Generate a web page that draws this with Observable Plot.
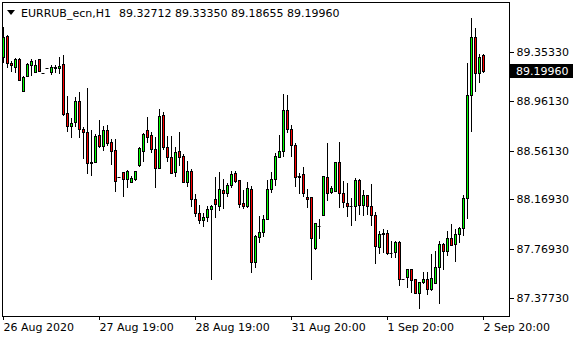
<!DOCTYPE html>
<html><head><meta charset="utf-8">
<script src="https://cdn.jsdelivr.net/npm/d3@7"></script>
<script src="https://cdn.jsdelivr.net/npm/@observablehq/plot@0.6"></script>
<style>
html,body{margin:0;padding:0;background:#fff;}
#chart{position:relative;width:580px;height:340px;}
</style></head><body><div id="chart"></div>
<script>
const symbolName = "EURRUB_ecn,H1";
const headerValues = "89.32712 89.33350 89.18655 89.19960";
const lastPrice = 89.1996;
const tickIndex = [0, 24, 48, 72, 96, 120];
const tickLabels = ["26 Aug 2020", "27 Aug 19:00", "28 Aug 19:00", "31 Aug 20:00", "1 Sep 20:00", "2 Sep 20:00"];
const priceTicks = [89.3533, 88.9613, 88.5613, 88.1693, 87.7693, 87.3773];

const opens = [89.313,89.482,89.265,89.233,89.297,89.040,89.160,89.249,89.193,89.297,
89.185,89.225,89.193,89.229,89.225,89.257,88.863,88.759,88.791,88.960,
88.735,88.711,88.470,88.470,88.687,88.598,88.727,88.630,88.566,88.349,
88.389,88.333,88.309,88.333,88.446,88.558,88.727,88.687,88.574,88.422,
88.847,88.590,88.510,88.389,88.558,88.518,88.309,88.397,88.172,88.060,
88.004,88.028,88.092,88.172,88.116,88.245,88.221,88.285,88.381,88.325,
88.140,88.116,88.253,87.666,87.867,87.907,88.012,88.253,88.333,88.510,
88.558,88.887,88.735,88.606,88.357,88.373,88.189,88.189,87.779,87.954,
88.044,88.349,88.229,88.237,88.470,88.221,88.140,88.116,88.116,88.325,
88.124,88.205,88.116,88.044,87.787,87.895,87.899,87.739,87.747,87.827,
87.530,87.546,87.610,87.530,87.417,87.506,87.530,87.449,87.498,87.626,
87.811,87.755,87.859,87.811,87.891,87.940,88.180,89.008,89.474,89.185,
89.32712];
const highs = [89.554,89.490,89.281,89.305,89.305,89.160,89.265,89.297,89.289,89.300,
89.186,89.227,89.249,89.249,89.313,89.329,89.000,88.823,88.992,89.032,
88.751,89.064,88.727,88.695,88.807,88.759,88.767,88.654,88.654,88.350,
88.392,88.405,88.357,88.400,88.590,88.703,88.831,88.711,88.671,88.895,
88.871,88.679,88.679,88.590,88.711,88.534,88.478,88.413,88.213,88.124,
88.060,88.116,88.124,88.349,88.389,88.333,88.301,88.397,88.397,88.328,
88.245,88.309,88.277,87.883,88.036,88.044,88.325,88.389,88.542,88.687,
89.016,89.008,88.767,88.622,88.381,88.430,88.253,88.192,87.983,88.012,
88.360,88.622,88.277,88.473,88.630,88.317,88.301,88.180,88.341,88.333,
88.245,88.208,88.293,88.068,87.915,87.931,87.923,87.835,87.835,87.833,
87.532,87.612,87.612,87.532,87.508,87.586,87.586,87.731,87.755,87.835,
87.819,87.915,87.972,87.931,87.948,88.205,89.265,89.626,89.546,89.337,
89.3335];
const lows = [89.265,89.225,89.193,89.185,89.120,89.036,89.152,89.160,89.185,89.193,
89.177,89.217,89.169,89.185,89.177,88.839,88.711,88.662,88.751,88.662,
88.494,88.373,88.357,88.462,88.582,88.558,88.598,88.446,88.229,88.341,
88.189,88.261,88.305,88.317,88.430,88.470,88.622,88.542,88.261,88.414,
88.566,88.470,88.373,88.349,88.438,88.305,88.269,88.108,88.028,87.972,
87.948,87.988,87.522,88.020,88.076,88.092,88.189,88.261,88.301,88.100,
88.092,88.100,87.578,87.618,87.819,87.867,88.008,88.221,88.277,88.502,
88.510,88.703,88.510,88.269,88.213,88.189,88.100,87.522,87.763,87.851,
88.040,88.156,88.213,88.229,88.100,88.100,88.028,87.956,87.996,88.044,
88.036,88.044,87.956,87.650,87.731,87.739,87.723,87.698,87.698,87.473,
87.522,87.457,87.417,87.415,87.289,87.490,87.401,87.433,87.490,87.329,
87.602,87.715,87.795,87.666,87.819,87.875,88.012,88.711,89.032,89.104,
89.18655];
const closes = [89.474,89.265,89.249,89.297,89.128,89.152,89.257,89.281,89.249,89.201,
89.182,89.222,89.233,89.226,89.241,88.855,88.759,88.783,88.960,88.735,
88.711,88.462,88.458,88.679,88.598,88.727,88.622,88.558,88.317,88.347,
88.333,88.397,88.341,88.397,88.582,88.695,88.671,88.574,88.422,88.839,
88.590,88.510,88.381,88.550,88.510,88.309,88.397,88.172,88.060,88.004,
88.028,88.092,88.116,88.132,88.253,88.221,88.285,88.373,88.317,88.132,
88.116,88.261,87.666,87.875,87.907,88.012,88.253,88.333,88.518,88.558,
88.887,88.735,88.606,88.349,88.349,88.221,88.172,87.859,87.980,87.958,
88.357,88.221,88.261,88.470,88.221,88.148,88.116,88.114,88.325,88.124,
88.205,88.116,88.044,87.795,87.891,87.899,87.739,87.735,87.827,87.530,
87.528,87.610,87.522,87.417,87.506,87.530,87.449,87.538,87.626,87.811,
87.755,87.859,87.803,87.891,87.940,88.180,89.008,89.474,89.185,89.313,
89.1996];

const bars = opens.map((o, i) => ({i, o, h: highs[i], l: lows[i], c: closes[i], dir: closes[i] >= o ? "up" : "down"}));
const dojis = bars.filter(d => Math.abs(d.o - d.c) < 0.008);

const plot = Plot.plot({
  width: 580,
  height: 340,
  marginLeft: 2,
  marginRight: 71,
  marginTop: 2,
  marginBottom: 24,
  style: {fontFamily: "'DejaVu Sans', sans-serif", fontSize: "11px", background: "#fff", color: "#000"},
  x: {domain: [-0.25, 126.5], label: null},
  y: {domain: [87.233, 89.755], label: null, round: true},
  color: {domain: ["up", "down"], range: ["#00ff00", "#ff0000"]},
  marks: [
    Plot.ruleX(bars, {x: "i", y1: "l", y2: "h", stroke: "#000", strokeWidth: 1}),
    Plot.rect(bars, {x1: d => d.i - 0.25, x2: d => d.i + 0.25, y1: "o", y2: "c", fill: "dir", stroke: "#000", strokeWidth: 1, dx: 0.5, dy: 0.5}),
    Plot.ruleY(dojis, {y: "o", x1: d => d.i - 0.375, x2: d => d.i + 0.375, stroke: "#000", strokeWidth: 1}),
    Plot.frame({stroke: "#000"}),
    Plot.axisY(priceTicks, {anchor: "right", tickFormat: d3.format(".5f"), tickSize: 4, tickPadding: 3, label: null, fontSize: 11}),
    Plot.axisX(tickIndex, {anchor: "bottom", tickFormat: d => tickLabels[tickIndex.indexOf(d)], textAnchor: "start", tickSize: 4, tickPadding: 3, label: null, fontSize: 11})
  ]
});
document.getElementById("chart").appendChild(plot);

const svg = d3.select(plot);
const yS = plot.scale("y");
const yy = Math.round(yS.apply(lastPrice));
const g = svg.append("g").attr("font-family", "'DejaVu Sans', sans-serif").attr("font-size", "11px").attr("text-anchor", "start");
g.append("rect").attr("x", 510).attr("y", yy - 7).attr("width", 63).attr("height", 14).attr("fill", "#000");
g.append("text").attr("x", 516).attr("y", yy + 4).attr("fill", "#fff").text(d3.format(".5f")(lastPrice));
g.append("path").attr("d", "M7,10L15,10L11,15Z").attr("fill", "#000");
g.append("text").attr("x", 21).attr("y", 17).attr("fill", "#000").text(symbolName);
g.append("text").attr("x", 119).attr("y", 17).attr("fill", "#000").text(headerValues);
</script></body></html>
